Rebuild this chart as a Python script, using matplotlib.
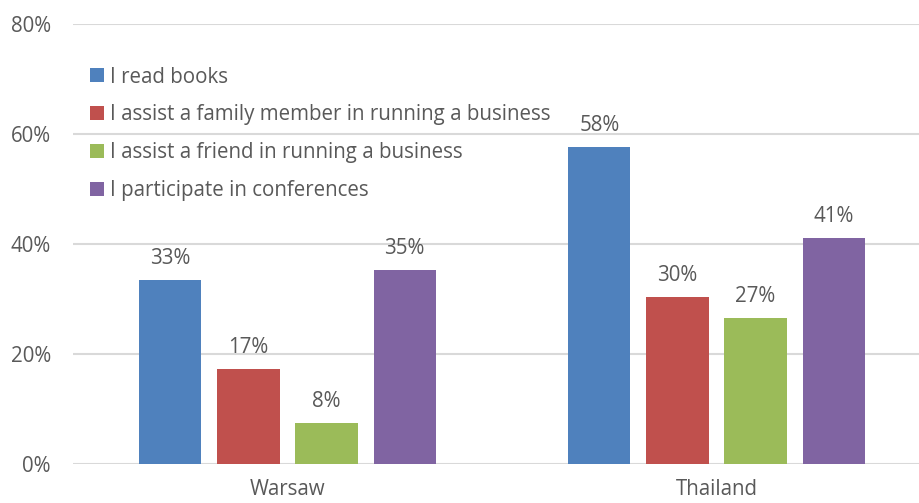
import numpy as np
import matplotlib.pyplot as plt
from matplotlib.ticker import PercentFormatter

plt.rcParams['font.family'] = ['Open Sans', 'DejaVu Sans']

cities = ['Warsaw', 'Thailand']
series = ['I read books',
          'I assist a family member in running a business',
          'I assist a friend in running a business',
          'I participate in conferences']
values = [
    [33.4, 57.6],   # read books
    [17.3, 30.4],   # family business
    [7.5, 26.6],    # friend business
    [35.3, 41.1],   # conferences
]
colors = ['#4f81bd', '#c0504d', '#9bbb59', '#8064a2']
text_col = '#595959'
fs = 14.8

fig = plt.figure(figsize=(9.19, 5.03), dpi=100)
# plot area runs past the right edge (the original was cropped)
ax = fig.add_axes([73 / 919, 39 / 503, 858 / 919, 440 / 503])

x = np.arange(len(cities))
w = 0.145
step = 0.182
for i, (name, vals) in enumerate(zip(series, values)):
    pos = x + (i - 1.5) * step
    bars = ax.bar(pos, vals, w, color=colors[i], label=name, zorder=3)
    for b, v in zip(bars, vals):
        ax.annotate(f'{v:.0f}%', (b.get_x() + b.get_width() / 2, v),
                    xytext=(0, 8), textcoords='offset points',
                    ha='center', va='bottom', fontsize=fs, color=text_col)

ax.set_xlim(-0.5, 1.5)
ax.set_ylim(0, 80)
ax.set_yticks([0, 20, 40, 60, 80])
ax.yaxis.set_major_formatter(PercentFormatter(decimals=0))
ax.set_xticks(x)
ax.set_xticklabels(cities)
ax.tick_params(length=0, labelsize=fs, colors=text_col)
ax.tick_params(axis='y', pad=16)
ax.tick_params(axis='x', pad=11)
ax.grid(axis='y', color='#d9d9d9', linewidth=1.5, zorder=0)
for s in ax.spines.values():
    s.set_visible(False)

ax.legend(loc='upper left', bbox_to_anchor=(0.010, 0.922), frameon=False,
          fontsize=fs, labelcolor=text_col, handlelength=0.68,
          handleheight=0.68, handletextpad=0.3, labelspacing=0.82,
          borderaxespad=0)

fig.savefig('out.png', dpi=100)
